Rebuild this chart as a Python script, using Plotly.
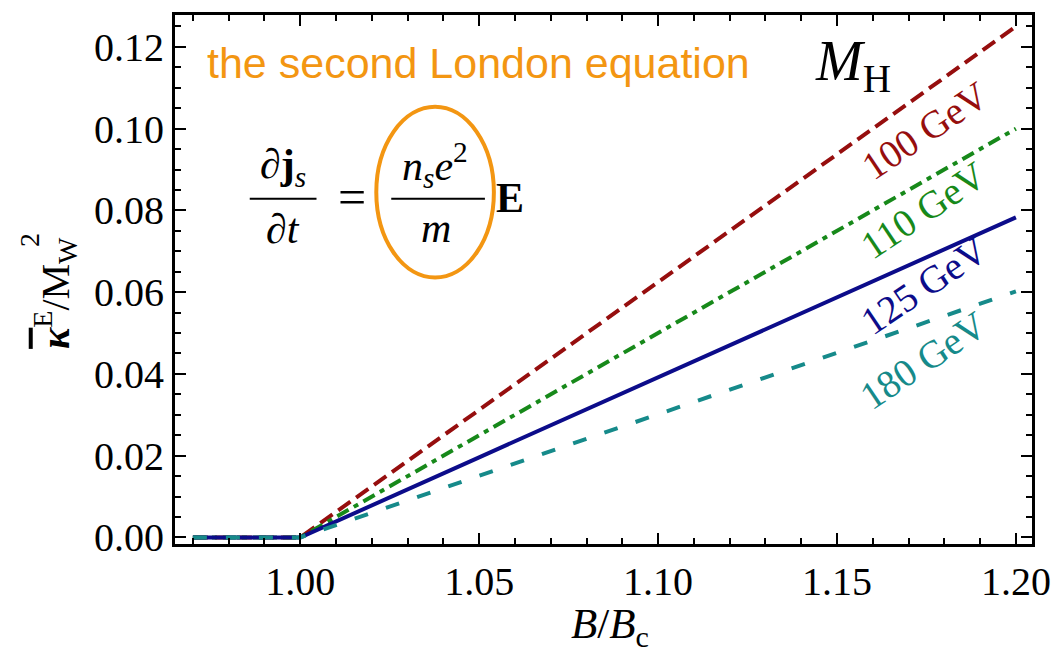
import plotly.graph_objects as go

# B/Bc sample points and the normalised condensate response for each Higgs mass
b_ratio = [0.97, 1.00, 1.05, 1.10, 1.15, 1.20]
kappa_mh100 = [0.0, 0.0, 0.0312, 0.0625, 0.0937, 0.1250]
kappa_mh110 = [0.0, 0.0, 0.0250, 0.0500, 0.0750, 0.1000]
kappa_mh125 = [0.0, 0.0, 0.0196, 0.0392, 0.0588, 0.0783]
kappa_mh180 = [0.0, 0.0, 0.0151, 0.0301, 0.0452, 0.0602]

higgs_labels = ["100 GeV", "110 GeV", "125 GeV", "180 GeV"]

x_tick_vals = [1.00, 1.05, 1.10, 1.15, 1.20]
x_tick_text = ["1.00", "1.05", "1.10", "1.15", "1.20"]
y_tick_vals = [0.00, 0.02, 0.04, 0.06, 0.08, 0.10, 0.12]
y_tick_text = ["0.00", "0.02", "0.04", "0.06", "0.08", "0.10", "0.12"]

W, H = 1063, 654
L, R, T, B = 175, 28, 14, 110
PW, PH = W - L - R, H - T - B


def px(x):
    return (x - L) / PW


def py(y):
    return (H - B - y) / PH


SERIF = "Liberation Serif, Times New Roman, serif"
SANS = "Liberation Sans, Arial, Helvetica, sans-serif"
ORANGE = "#f39612"

styles = [
    (kappa_mh100, "#960e0e", "15px,7px"),
    (kappa_mh110, "#17891a", "13px,6px,5px,6px"),
    (kappa_mh125, "#0c0c8a", "solid"),
    (kappa_mh180, "#168a8a", "14px,19px"),
]

fig = go.Figure()
for (vals, color, dash), name in zip(styles, higgs_labels):
    fig.add_trace(go.Scatter(
        x=b_ratio, y=vals, mode="lines", name=name,
        line=dict(color=color, width=4, dash=dash),
        showlegend=False, hoverinfo="skip",
    ))

axis_common = dict(
    showline=True, linewidth=3, linecolor="black", mirror="allticks",
    ticks="inside", ticklen=11, tickwidth=2, tickcolor="black",
    showgrid=False, zeroline=False,
    tickfont=dict(family=SERIF, size=40, color="black"),
)

fig.update_xaxes(
    range=[0.9650, 1.2045], tickmode="array", tickvals=x_tick_vals, ticktext=x_tick_text,
    minor=dict(tickmode="linear", tick0=1.0, dtick=0.01, ticks="inside", ticklen=6,
               tickwidth=1.5, tickcolor="black"),
    **axis_common,
)
fig.update_yaxes(
    range=[-0.0016, 0.1278], tickmode="array", tickvals=y_tick_vals, ticktext=y_tick_text,
    minor=dict(tickmode="linear", tick0=0.0, dtick=0.005, ticks="inside", ticklen=6,
               tickwidth=1.5, tickcolor="black"),
    **axis_common,
)

annotations = []


def note(x, y, text, font, **kw):
    """Text placed by pixel position, centred on (x, y)."""
    d = dict(x=px(x), y=py(y), xref="paper", yref="paper", showarrow=False,
             xanchor="center", yanchor="middle", text=text, font=font)
    d.update(kw)
    annotations.append(d)


# curve labels, rotated along the lines
label_pos = [(1.1745, 0.0995), (1.1739, 0.0800), (1.1742, 0.0616), (1.1739, 0.0433)]
for (x, y), name, (_, color, _) in zip(label_pos, higgs_labels, styles):
    annotations.append(dict(
        x=x, y=y, xref="x", yref="y", text=name, showarrow=False, textangle=-34,
        xanchor="center", yanchor="middle",
        font=dict(family=SERIF, size=39, color=color),
    ))

# M_H heading
note(855, 64, "<i>M</i><sub>H</sub>", dict(family=SERIF, size=56, color="black"))

# orange caption
note(205, 62, "the second London equation", dict(family=SANS, size=43, color=ORANGE),
     xanchor="left")

# London equation, built from text pieces and fraction bars
eq_font = dict(family=SERIF, size=42, color="black")
note(283, 166, "∂<b>j</b><i><sub>s</sub></i>", eq_font)
note(283, 228, "∂<i>t</i>", eq_font)
note(353, 196, "=", dict(family=SERIF, size=50, color="black"))
note(436, 164, "<i>n<sub>s</sub>e</i><sup>2</sup>", eq_font)
note(437, 227, "<i>m</i>", eq_font)
note(511, 197, "<b>E</b>", eq_font)

# axis titles
note(612, 627, "<i>B</i>/<i>B</i><sub>c</sub>", dict(family=SERIF, size=43, color="black"))
note(55, 292,
     "<b><i><span style='text-decoration:overline'>κ</span></i></b><sup>E</sup>/M<sub>W</sub>",
     dict(family=SERIF, size=40, color="black"), textangle=-90)
note(29, 240, "2", dict(family=SERIF, size=28, color="black"), textangle=-90)

shapes = [
    dict(type="line", xref="paper", yref="paper", x0=px(250), x1=px(317), y0=py(198), y1=py(198),
         line=dict(color="black", width=2)),
    dict(type="line", xref="paper", yref="paper", x0=px(392), x1=px(486), y0=py(198), y1=py(198),
         line=dict(color="black", width=2)),
    dict(type="circle", xref="paper", yref="paper", x0=px(377), x1=px(495), y0=py(277), y1=py(106),
         line=dict(color=ORANGE, width=4)),
]

fig.update_layout(
    width=W, height=H, autosize=False,
    margin=dict(l=L, r=R, t=T, b=B),
    plot_bgcolor="white", paper_bgcolor="white",
    annotations=annotations, shapes=shapes,
)

fig.write_html("out.html")
